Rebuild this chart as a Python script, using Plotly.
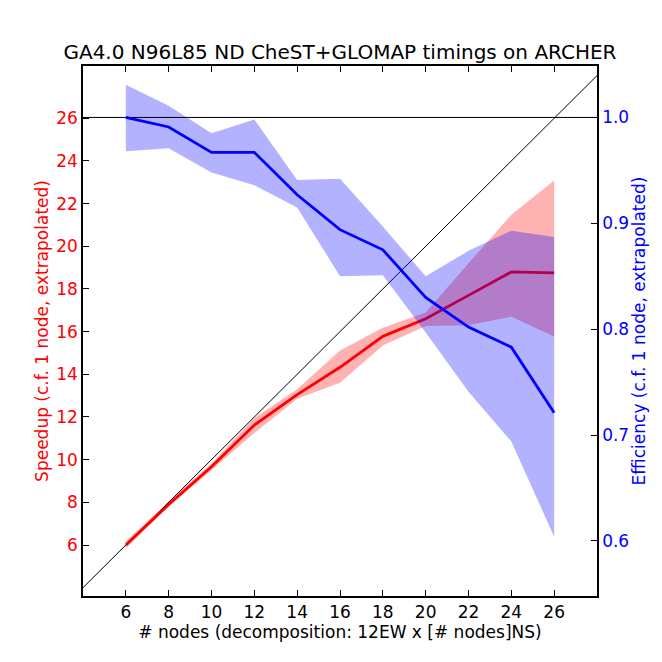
import plotly.graph_objects as go

# Data
nodes = [6, 8, 10, 12, 14, 16, 18, 20, 22, 24, 26]
speedup = [6.0, 7.9, 9.67, 11.62, 13.05, 14.33, 15.78, 16.6, 17.7, 18.8, 18.75]
speedup_hi = [6.18, 8.05, 9.82, 11.95, 13.3, 15.12, 16.18, 16.9, 19.2, 21.48, 23.08]
speedup_lo = [5.85, 7.8, 9.5, 11.25, 12.85, 13.6, 15.35, 16.26, 16.3, 16.7, 15.77]
efficiency = [1.0, 0.991, 0.967, 0.967, 0.927, 0.894, 0.875, 0.830, 0.802, 0.783, 0.721]
efficiency_hi = [1.031, 1.011, 0.985, 0.998, 0.941, 0.942, 0.897, 0.850, 0.874, 0.893, 0.887]
efficiency_lo = [0.968, 0.971, 0.948, 0.936, 0.915, 0.850, 0.851, 0.797, 0.741, 0.694, 0.604]
ideal_nodes = [4, 28]
ideal_efficiency = 1.0
x_ticks = [6, 8, 10, 12, 14, 16, 18, 20, 22, 24, 26]
speedup_ticks = [6, 8, 10, 12, 14, 16, 18, 20, 22, 24, 26]
eff_ticks = [0.6, 0.7, 0.8, 0.9, 1.0]

FONT = "DejaVu Sans"
fig = go.Figure()

# speedup band + line (left axis)
fig.add_trace(go.Scatter(
    x=nodes + nodes[::-1], y=speedup_hi + speedup_lo[::-1],
    fill="toself", fillcolor="rgba(255,0,0,0.3)", line=dict(width=0),
    mode="lines", hoverinfo="skip", showlegend=False, yaxis="y"))
fig.add_trace(go.Scatter(
    x=ideal_nodes, y=ideal_nodes, mode="lines",
    line=dict(color="black", width=1), showlegend=False, yaxis="y"))
fig.add_trace(go.Scatter(
    x=nodes, y=speedup, mode="lines",
    line=dict(color="#ff0000", width=2.8), showlegend=False, yaxis="y"))

# efficiency band + line (right axis)
fig.add_trace(go.Scatter(
    x=nodes + nodes[::-1], y=efficiency_hi + efficiency_lo[::-1],
    fill="toself", fillcolor="rgba(0,0,255,0.3)", line=dict(width=0),
    mode="lines", hoverinfo="skip", showlegend=False, yaxis="y2"))
fig.add_trace(go.Scatter(
    x=ideal_nodes, y=[ideal_efficiency] * len(ideal_nodes), mode="lines",
    line=dict(color="black", width=1), showlegend=False, yaxis="y2"))
fig.add_trace(go.Scatter(
    x=nodes, y=efficiency, mode="lines",
    line=dict(color="#0000ff", width=2.8), showlegend=False, yaxis="y2"))

# page has an 8px body margin, so the figure is 654 px and offset by 8
W = H = 654
fig.update_layout(
    width=W, height=H,
    margin=dict(l=75, r=65, t=58, b=66, autoexpand=False),
    paper_bgcolor="white", plot_bgcolor="white",
    font=dict(family=FONT, size=17, color="black"),
    title=dict(text="GA4.0 N96L85 ND CheST+GLOMAP timings on ARCHER",
               x=(340 - 8) / W, xanchor="center",
               y=1 - 44 / H, yanchor="middle",
               font=dict(family=FONT, size=20, color="black")),
    xaxis=dict(range=[4, 28], tickvals=x_ticks, ticks="inside", ticklen=6,
               tickcolor="black", showgrid=False, zeroline=False, automargin=False,
               showline=True, linecolor="black", linewidth=1.5, mirror="ticks",
               tickfont=dict(family=FONT, size=17, color="black"),
               title=dict(text="# nodes (decomposition: 12EW x [# nodes]NS)",
                          standoff=1, font=dict(family=FONT, size=17, color="black"))),
    yaxis=dict(range=[3.61, 28.45], tickvals=speedup_ticks, ticks="inside", ticklen=6,
               tickcolor="black", showgrid=False, zeroline=False, automargin=False,
               showline=True, linecolor="black", linewidth=1.5,
               tickfont=dict(family=FONT, size=17, color="#ff0000"),
               title=dict(text="Speedup (c.f. 1 node, extrapolated)", standoff=3,
                          font=dict(family=FONT, size=17, color="#ff0000"))),
    yaxis2=dict(range=[0.548, 1.0486], tickvals=eff_ticks, tickformat=".1f",
                overlaying="y", side="right", ticks="inside", ticklen=6,
                tickcolor="black", showgrid=False, zeroline=False, automargin=False,
                showline=True, linecolor="black", linewidth=1.5,
                tickfont=dict(family=FONT, size=17, color="#0000ff"),
                title=dict(text="Efficiency (c.f. 1 node, extrapolated)", standoff=4,
                           font=dict(family=FONT, size=17, color="#0000ff"))),
)

fig.write_html("out.html")
